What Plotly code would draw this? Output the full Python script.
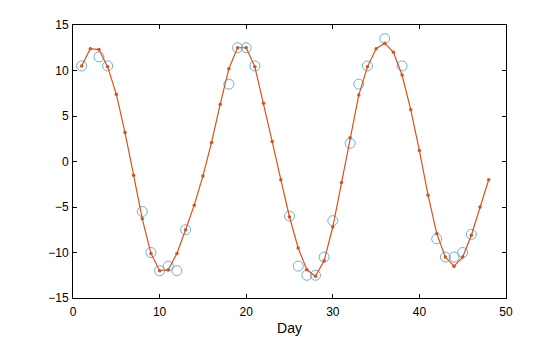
import plotly.graph_objects as go

# Observed daily values (open circles)
obs_day = [1, 3, 4, 8, 9, 10, 11, 12, 13, 18, 19, 20, 21, 25, 26, 27, 28, 29, 30,
           32, 33, 34, 36, 38, 42, 43, 44, 45, 46]
obs_val = [10.5, 11.5, 10.5, -5.5, -10, -12, -11.5, -12, -7.5, 8.5, 12.5, 12.5, 10.5,
           -6, -11.5, -12.5, -12.5, -10.5, -6.5, 2, 8.5, 10.5, 13.5, 10.5,
           -8.5, -10.5, -10.5, -10, -8]

# Smoothed series, one value per day
fit_day = list(range(1, 49))
fit_val = [10.5, 12.4, 12.3, 10.4, 7.4, 3.2, -1.5, -6.3, -10.1, -12.0,
           -11.9, -10.1, -7.5, -4.8, -1.6, 2.1, 6.3, 10.2, 12.5, 12.5,
           10.4, 6.4, 2.2, -2.0, -6.1, -9.5, -11.9, -12.6, -10.9, -7.2,
           -2.3, 2.6, 7.3, 10.4, 12.4, 13.0, 12.0, 9.5, 5.7, 1.2,
           -3.7, -7.9, -10.5, -11.5, -10.5, -8.1, -5.0, -2.0]

x_ticks = [0, 10, 20, 30, 40, 50]
y_ticks = [-15, -10, -5, 0, 5, 10, 15]

FONT = "Liberation Sans, Arial, Helvetica"

fig = go.Figure()
fig.add_trace(go.Scatter(
    x=obs_day, y=obs_val, mode="markers",
    marker=dict(symbol="circle-open", size=10, color="#4A9BD6",
                line=dict(width=0.8, color="#4A9BD6")),
    showlegend=False,
))
fig.add_trace(go.Scatter(
    x=fit_day, y=fit_val, mode="lines+markers",
    line=dict(color="#D95319", width=1.2),
    marker=dict(symbol="circle", size=3.5, color="#D95319"),
    showlegend=False,
))

axis_common = dict(
    showgrid=False, zeroline=False, showline=True, linecolor="black",
    linewidth=1, mirror="ticks", ticks="inside", ticklen=4, tickwidth=1,
    tickcolor="black", tickfont=dict(family=FONT, size=12, color="black"),
    automargin=False,
)

fig.update_xaxes(range=[0, 50], tickvals=x_ticks, ticklabelstandoff=3,
                 title=dict(text="Day", font=dict(family=FONT, size=14, color="black"),
                            standoff=4),
                 **axis_common)
fig.update_yaxes(range=[-15, 15], tickvals=y_ticks, ticklabelstandoff=1, **axis_common)

fig.update_layout(
    width=560, height=337,
    margin=dict(l=73, r=54, t=25, b=39),
    paper_bgcolor="white", plot_bgcolor="white",
)

fig.write_html("out.html")
